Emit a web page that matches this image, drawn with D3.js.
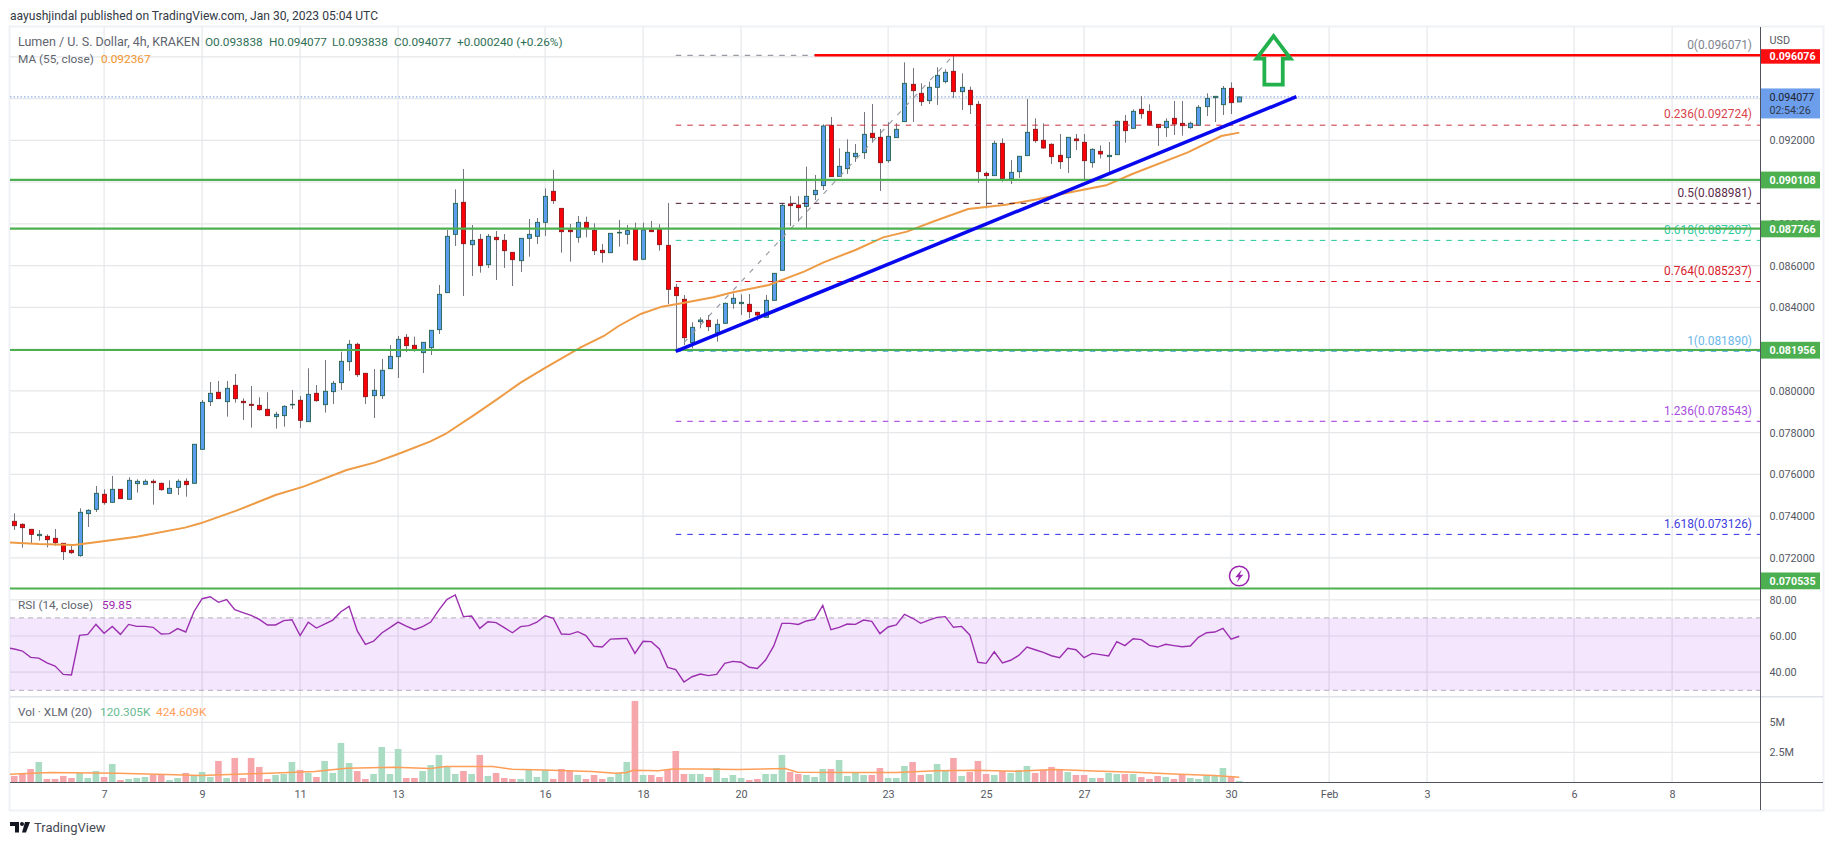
<!DOCTYPE html>
<html>
<head>
<meta charset="utf-8">
<title>Lumen / U. S. Dollar, 4h</title>
<script src="https://cdn.jsdelivr.net/npm/d3@7/dist/d3.min.js"></script>
<style>
  html, body { margin: 0; padding: 0; background: #fff; overflow: hidden; }
  svg { display: block; }
  text { font-family: Roboto, "Liberation Sans", sans-serif; }
  .axis .domain { display: none; }
  .axis text { fill: #555963; font-size: 10.8px; }
</style>
</head>
<body>
<svg id="chart" width="1834" height="845"></svg>
<script>
// 4h candles, one entry per bar, starting 5 Jan 2023 04:00 UTC
const opens = [
0.073752,0.073608,0.073369,0.073065,0.073034,0.072938,0.072698,0.072363,0.072108,0.074119,
0.074327,0.075045,0.074662,0.075284,0.074806,0.075556,0.075524,0.075668,0.075572,0.075093,
0.075380,0.075668,0.075572,0.077200,0.079483,0.079930,0.079483,0.080265,0.079499,0.079355,
0.079307,0.079116,0.078765,0.078813,0.079339,0.079547,0.078525,0.079882,0.079339,0.079962,
0.080393,0.081399,0.082229,0.080840,0.079770,0.079770,0.081063,0.081638,0.082564,0.082181,
0.081830,0.082069,0.082931,0.084703,0.087496,0.089029,0.087001,0.087257,0.086044,0.087353,
0.087209,0.086634,0.086235,0.087305,0.087401,0.088071,0.089556,0.088741,0.087704,0.087353,
0.088071,0.087688,0.086730,0.086618,0.087576,0.087497,0.087737,0.086300,0.087705,0.087737,
0.086970,0.084959,0.084384,0.082309,0.083314,0.083378,0.082788,0.083235,0.084193,0.084177,
0.084145,0.083761,0.083522,0.084336,0.085773,0.088950,0.088902,0.088838,0.089397,0.089828,
0.092717,0.090275,0.090642,0.091217,0.091408,0.092334,0.092143,0.091025,0.092127,0.092893,
0.094681,0.094250,0.093899,0.094537,0.094809,0.095303,0.094330,0.094394,0.093723,0.090418,
0.090307,0.091855,0.090163,0.090498,0.091265,0.092526,0.091999,0.091807,0.091281,0.091169,
0.092063,0.091903,0.090929,0.091472,0.091217,0.091312,0.092909,0.092574,0.093484,0.093388,
0.092765,0.092606,0.093053,0.092813,0.092606,0.092717,0.093611,0.094042,0.093707,0.094489,0.093838];
const highs = [
0.074135,0.073656,0.073369,0.073337,0.073129,0.073385,0.072698,0.072571,0.074374,0.074327,
0.075444,0.075284,0.075923,0.075284,0.075859,0.075763,0.075763,0.075763,0.075604,0.075715,
0.075763,0.075811,0.077440,0.079563,0.080425,0.080473,0.080473,0.080808,0.079643,0.080233,
0.079691,0.079930,0.079004,0.079307,0.080042,0.079754,0.081079,0.080281,0.081478,0.080473,
0.081878,0.082436,0.082309,0.080840,0.081047,0.081526,0.082197,0.082628,0.082724,0.082596,
0.082325,0.082899,0.085070,0.087704,0.089651,0.090625,0.087943,0.087512,0.087512,0.087656,
0.087512,0.086634,0.087305,0.088231,0.088279,0.089699,0.090577,0.088741,0.087991,0.088374,
0.088342,0.088023,0.087033,0.087544,0.088183,0.087944,0.088056,0.088056,0.088136,0.087976,
0.088998,0.085118,0.084592,0.083283,0.083522,0.083634,0.083426,0.084224,0.084671,0.084623,
0.084640,0.083793,0.084592,0.085629,0.088982,0.089333,0.089333,0.090738,0.090339,0.092765,
0.093116,0.091616,0.092047,0.091823,0.093356,0.093739,0.092542,0.092861,0.092813,0.095735,
0.095463,0.094729,0.094809,0.095495,0.095399,0.096071,0.095208,0.094569,0.093883,0.090498,
0.091983,0.092095,0.091057,0.091249,0.093978,0.093053,0.092813,0.091855,0.092302,0.092143,
0.092302,0.092302,0.091616,0.091759,0.091919,0.092941,0.093212,0.093484,0.094122,0.093723,
0.092765,0.093053,0.093883,0.093883,0.092893,0.093691,0.094250,0.094106,0.094601,0.094777,0.094077];
const lows = [
0.073337,0.072491,0.072698,0.072826,0.072507,0.072587,0.071900,0.072187,0.072060,0.073481,
0.074199,0.074550,0.074662,0.074837,0.074806,0.075125,0.075524,0.074550,0.075221,0.075093,
0.075013,0.074933,0.075572,0.077200,0.079275,0.079627,0.078765,0.079435,0.078605,0.078238,
0.079052,0.078813,0.078190,0.078286,0.079132,0.078222,0.078525,0.079483,0.078956,0.079371,
0.080042,0.080952,0.080664,0.079371,0.078701,0.079611,0.081063,0.080616,0.081862,0.081878,
0.080856,0.081718,0.082724,0.084703,0.086938,0.084543,0.085501,0.085660,0.085884,0.085309,
0.085884,0.085022,0.085692,0.086427,0.087033,0.087416,0.088949,0.086618,0.086187,0.087097,
0.087353,0.086507,0.086139,0.086618,0.086906,0.087018,0.086236,0.086300,0.087625,0.086715,
0.084161,0.081890,0.082197,0.082037,0.082995,0.082867,0.082357,0.083235,0.083937,0.083634,
0.083474,0.083362,0.083522,0.084336,0.085773,0.087896,0.088104,0.087784,0.089141,0.089620,
0.090259,0.090259,0.090387,0.090961,0.091105,0.091887,0.089572,0.090929,0.092127,0.092893,
0.092877,0.093643,0.093739,0.093691,0.094729,0.094026,0.093452,0.093260,0.089971,0.088742,
0.090307,0.090019,0.089908,0.090195,0.091265,0.091887,0.091600,0.090865,0.090626,0.090434,
0.091536,0.090099,0.090690,0.091137,0.090418,0.091312,0.091887,0.092574,0.093037,0.092685,
0.091728,0.092159,0.092254,0.092222,0.092558,0.092717,0.093164,0.092877,0.093212,0.093260,0.093838];
const closes = [
0.073544,0.073449,0.073129,0.073129,0.072874,0.072730,0.072299,0.072251,0.074183,0.074279,
0.075093,0.074646,0.075284,0.074837,0.075715,0.075668,0.075668,0.075604,0.075268,0.075332,
0.075668,0.075508,0.077440,0.079451,0.079882,0.079627,0.080122,0.079627,0.079435,0.079307,
0.079100,0.078813,0.078876,0.079259,0.079355,0.078589,0.079834,0.079531,0.079978,0.080361,
0.081415,0.082229,0.080776,0.079722,0.080026,0.080984,0.081654,0.082468,0.082165,0.081957,
0.082325,0.082899,0.084623,0.087401,0.088981,0.087049,0.087209,0.085996,0.087401,0.087241,
0.086714,0.086283,0.087305,0.087496,0.088071,0.089316,0.089109,0.087624,0.087624,0.088071,
0.087800,0.086714,0.086618,0.087544,0.087592,0.087673,0.086268,0.087705,0.087625,0.087002,
0.084863,0.084560,0.082548,0.083043,0.083394,0.083075,0.083187,0.084193,0.084432,0.084240,
0.083793,0.083634,0.084336,0.085629,0.088886,0.088870,0.088774,0.089317,0.089604,0.092685,
0.090259,0.090754,0.091424,0.091376,0.092286,0.092127,0.090929,0.092190,0.092526,0.094729,
0.094378,0.093851,0.094537,0.095112,0.095256,0.094330,0.094537,0.093707,0.090498,0.090307,
0.091855,0.090163,0.090466,0.091233,0.092382,0.091983,0.091632,0.091217,0.090977,0.092143,
0.091983,0.091025,0.091568,0.091344,0.091281,0.092909,0.092462,0.093388,0.093276,0.092733,
0.092606,0.092909,0.092781,0.092701,0.092813,0.093579,0.094010,0.094106,0.094489,0.093803,0.094077];

// Traded volume per bar, in millions of XLM
const volumes = [
0.53,0.78,1.11,1.69,0.28,0.28,0.53,0.36,0.78,0.36,
0.94,0.44,1.53,0.19,0.28,0.36,0.44,0.61,0.61,0.19,
0.36,0.78,0.53,0.86,0.44,1.78,0.36,2.03,0.36,2.03,
1.28,0.28,0.61,0.69,1.69,1.03,0.78,0.44,1.78,0.78,
3.28,1.61,0.94,0.28,0.69,2.94,0.69,2.78,0.36,0.36,
0.94,1.44,2.28,1.28,0.69,0.94,0.69,2.28,0.53,0.78,
0.36,0.28,0.28,1.11,0.44,1.03,0.28,1.11,0.94,0.61,
0.28,0.61,0.28,0.44,0.78,1.69,6.78,0.61,0.61,0.44,
1.03,2.61,0.69,0.69,0.69,0.44,1.19,0.36,0.61,0.36,
0.19,0.28,0.69,0.69,2.28,0.86,0.69,0.61,0.44,1.11,
1.11,1.86,0.53,0.78,0.61,0.61,1.19,0.36,0.36,1.36,
1.69,0.61,0.69,1.53,1.03,2.03,0.53,0.86,1.78,0.69,
0.61,0.94,0.78,1.03,1.36,0.78,1.03,1.28,1.11,0.86,
0.61,0.61,0.36,0.36,0.78,0.69,0.69,0.69,0.44,0.28,
0.53,0.44,0.28,0.69,0.36,0.28,0.61,0.53,1.19,0.53,0.120305];

// RSI(14), one value per bar; rsiLead sits just before the first bar
const rsiLead = 53.7;
const rsiValues = [
52.8,51.7,48.2,47.8,45.1,43.4,38.8,38.5,60.4,60.9,
66.4,61.5,65.3,60.9,66.4,65.3,65.3,64.8,61.1,61.3,
64.1,62.2,73.4,80.6,81.7,78.6,80.1,74.5,72.9,71.4,
69.2,66.1,66.1,68.5,69.0,60.2,67.6,64.4,66.6,68.8,
73.4,76.4,62.8,55.4,57.1,61.7,64.6,67.7,65.5,63.5,
65.2,67.7,74.4,80.3,82.7,70.7,71.0,64.2,67.9,67.4,
64.6,61.8,65.2,65.7,67.6,71.2,69.8,61.1,60.9,62.4,
60.2,54.3,53.9,58.3,58.5,58.7,50.4,57.1,56.9,52.8,
42.7,41.4,34.6,37.5,39.0,38.1,38.8,44.9,46.0,45.5,
42.7,42.1,46.7,54.5,67.0,67.0,66.4,68.3,69.2,76.9,
63.5,64.8,66.6,66.4,68.8,68.1,61.3,65.0,66.1,72.0,
69.8,67.0,68.8,70.3,70.7,64.8,65.3,60.6,45.5,44.9,
51.3,45.1,46.6,49.3,53.9,52.4,51.0,49.1,48.0,53.2,
52.4,48.0,50.4,49.7,49.0,56.9,54.7,58.5,58.0,54.8,
53.9,55.4,54.7,54.1,54.5,59.3,61.8,62.2,64.2,58.3,59.85];

// 55-period moving average of the close, read at the listed bar positions
const maBars = [-0.7,3,7.3,10.2,15,20.9,22.8,27.2,32,35.4,40.7,44.1,47,50.9,52.8,56.2,59.1,62,64.9,69.3,72.2,74,
  76.7,79.3,81.7,85.6,88,92.4,96.7,99.1,103,106.4,109.3,112.7,116.8,121.4,125.3,128.7,133.7,136.9,143.7,147.8,150];
const maValues = [0.072746,0.072666,0.072618,0.072762,0.073018,0.073449,0.073656,0.074263,0.075013,0.075412,0.076210,
  0.076562,0.076977,0.077567,0.077934,0.078813,0.079595,0.080393,0.081079,0.082069,0.082628,0.083107,
  0.083682,0.084033,0.084193,0.084480,0.084719,0.085071,0.085709,0.086156,0.086747,0.087353,0.087625,0.088136,
  0.088710,0.088918,0.089173,0.089461,0.089844,0.090387,0.091424,0.092206,0.092367];

// 20-period average of the volume, in millions
const volMaBars = [-0.7,4.4,12.6,17.5,22.8,28.1,32,36.8,40.7,46.5,50.9,52.8,58.6,61,64.9,70.7,73.6,75,75.8,78.9,80.6,
  83.8,88.6,94.4,95.9,103.1,108,112.9,117.7,122.6,127.4,132.3,137.2,142,146.9,150];
const volMaValues = [0.67,0.81,0.75,0.67,0.56,0.69,0.78,0.89,1.17,1.25,1.14,1.31,1.31,1.08,1.03,0.89,0.75,0.81,1.0,0.97,1.11,
  1.11,1.06,1.14,0.83,0.81,0.81,0.97,1.0,0.92,1.06,0.94,0.83,0.69,0.56,0.424609];

// Horizontal support levels and the resistance level
const supportLevels = [0.090108, 0.087766, 0.081956, 0.070535];
const resistanceLevel = 0.096076;
const resistanceStartBar = 98;

// Rising trendline, two anchors
const trendBars = [81, 157];
const trendPrices = [0.08189, 0.094088];

// Fibonacci retracement
const fibRatios = ["0", "0.236", "0.5", "0.618", "0.764", "1", "1.236", "1.618"];
const fibPrices = [0.096071, 0.092724, 0.088981, 0.087207, 0.085237, 0.08189, 0.078543, 0.073126];
const fibColors = ["#808490", "#c8323c", "#4b1532", "#22c99b", "#e0101e", "#5aaee6", "#a12fdc", "#2b2be6"];
const fibLabelColors = ["#808490", "#d8444c", "#5c2b48", "#2fc9a0", "#d8202c", "#6cb8ea", "#a94be0", "#4040e0"];
const fibAnchorBars = [81, 115];

// Axis ticks; levels that carry a tag on the axis have no plain label of their own
const priceTicks = [0.072,0.074,0.076,0.078,0.08,0.082,0.084,0.086,0.088,0.09,0.092,0.094,0.096];
const priceLabelTicks = [0.072,0.074,0.076,0.078,0.08,0.084,0.086,0.088,0.092];
const rsiTicks = [80, 60, 40];
const volTicks = [2.5, 5];
const dateTicks = [[0,7],[0,9],[0,11],[0,13],[0,16],[0,18],[0,20],[0,23],[0,25],[0,27],[0,30],[1,1],[1,3],[1,6],[1,8]];

const lastPrice = closes[closes.length - 1];
const lastMa = maValues[maValues.length - 1];

// Layout of the panes
const frame = { left: 10, right: 1823, top: 27, bottom: 810 };
const plotRight = 1760;
const priceRange = [590, 27];
const rsiRange = [697, 590];
const volRange = [782.3, 697];

const svg = d3.select("#chart");
const barMs = 4 * 3600 * 1000;
const firstBar = Date.UTC(2023, 0, 5, 4);
const barTime = i => new Date(firstBar + i * barMs);

const x = d3.scaleUtc()
  .domain([new Date(Date.UTC(2023, 0, 7)), new Date(Date.UTC(2023, 1, 8))])
  .range([104.1, 104.1 + 32 * 49]);
const y = d3.scaleLinear()
  .domain([0.092 - (590 - 140.3) / 20880, 0.092 + (140.3 - 27) / 20880])
  .range(priceRange);
const rsiY = d3.scaleLinear().domain([60 - 61 / 1.81, 60 + 46 / 1.81]).range(rsiRange);
const volY = d3.scaleLinear().domain([0, 85.3 / 12]).range(volRange);
const bx = i => x(barTime(i));

// Page furniture
svg.append("rect").attr("width", 1834).attr("height", 845).attr("fill", "#fff");
svg.append("text").attr("x", 10).attr("y", 19.5).attr("font-size", 12.1).attr("fill", "#333a45")
  .text("aayushjindal published on TradingView.com, Jan 30, 2023 05:04 UTC");
svg.append("rect")
  .attr("x", frame.left - 0.5).attr("y", frame.top - 0.5)
  .attr("width", frame.right - frame.left + 1).attr("height", frame.bottom - frame.top + 1)
  .attr("fill", "#fff").attr("stroke", "#eff1f6").attr("stroke-width", 2);

const defs = svg.append("defs");
const clip = (id, y0, y1) => defs.append("clipPath").attr("id", id).append("rect")
  .attr("x", frame.left).attr("y", y0).attr("width", plotRight - frame.left).attr("height", y1 - y0);
clip("price-clip", 27, 590);
clip("rsi-clip", 590, 697);
clip("vol-clip", 697, 782.3);

const gridColor = "#e6e7ea";
const grid = svg.append("g").attr("fill", "none").attr("stroke", gridColor).attr("stroke-width", 1.2);
const dates = dateTicks.map(([m, d]) => new Date(Date.UTC(2023, m, d)));
grid.selectAll(".v").data(dates).join("line").attr("class", "v")
  .attr("x1", d => x(d)).attr("x2", d => x(d)).attr("y1", frame.top).attr("y2", volRange[0]);
const hLine = (scale, vals) => grid.append("g").selectAll("line").data(vals).join("line")
  .attr("x1", frame.left).attr("x2", plotRight).attr("y1", d => scale(d)).attr("y2", d => scale(d));
hLine(y, priceTicks);
hLine(rsiY, rsiTicks);
hLine(volY, volTicks);

// RSI pane
const rsiPane = svg.append("g").attr("clip-path", "url(#rsi-clip)");
rsiPane.append("rect").attr("x", frame.left).attr("width", plotRight - frame.left)
  .attr("y", rsiY(70)).attr("height", rsiY(30) - rsiY(70)).attr("fill", "rgba(160,50,240,0.12)");
rsiPane.selectAll(".bound").data([70, 30]).join("line").attr("class", "bound")
  .attr("x1", frame.left).attr("x2", plotRight).attr("y1", d => rsiY(d)).attr("y2", d => rsiY(d))
  .attr("stroke", "#b5aebb").attr("stroke-width", 1).attr("stroke-dasharray", "5 4");
const rsiPoints = [[-1, rsiLead]].concat(rsiValues.map((v, i) => [i, v]));
rsiPane.append("path").attr("fill", "none").attr("stroke", "#9c2fb0").attr("stroke-width", 1.4)
  .attr("d", d3.line().x(d => bx(d[0])).y(d => rsiY(d[1]))(rsiPoints));

// Volume pane
const volPane = svg.append("g").attr("clip-path", "url(#vol-clip)");
volPane.selectAll("rect").data(volumes).join("rect")
  .attr("x", (d, i) => bx(i) - 3.3).attr("width", 6.6)
  .attr("y", d => volY(d)).attr("height", d => volY(0) - volY(d))
  .attr("fill", (d, i) => closes[i] >= opens[i] ? "#a9dcc3" : "#f6a7ac");
volPane.append("path").attr("fill", "none").attr("stroke", "#ff9e58").attr("stroke-width", 1.5)
  .attr("d", d3.line().x((d, i) => bx(volMaBars[i])).y(d => volY(d))(volMaValues));

// Last price marker
const pricePane = svg.append("g").attr("clip-path", "url(#price-clip)");
pricePane.append("line").attr("x1", frame.left).attr("x2", plotRight)
  .attr("y1", y(lastPrice)).attr("y2", y(lastPrice))
  .attr("stroke", "#6d9be0").attr("stroke-width", 1).attr("stroke-dasharray", "1.5 2");

// Candles
const candles = pricePane.append("g").selectAll("g").data(opens).join("g");
const snap = v => Math.round(v) + 0.5;
candles.append("line")
  .attr("x1", (d, i) => snap(bx(i))).attr("x2", (d, i) => snap(bx(i)))
  .attr("y1", (d, i) => y(highs[i])).attr("y2", (d, i) => y(lows[i]))
  .attr("stroke", "#73767e").attr("stroke-width", 1);
candles.append("rect")
  .attr("x", (d, i) => snap(bx(i)) - 2).attr("width", 4)
  .attr("y", (d, i) => y(Math.max(opens[i], closes[i])))
  .attr("height", (d, i) => Math.max(0.6, Math.abs(y(opens[i]) - y(closes[i]))))
  .attr("fill", (d, i) => closes[i] >= opens[i] ? "#5b9ef0" : "#fb0006")
  .attr("stroke", (d, i) => closes[i] >= opens[i] ? "#24634f" : "#8e1418")
  .attr("stroke-width", 0.9);

// Moving average
pricePane.append("path").attr("fill", "none").attr("stroke", "#ee9b45").attr("stroke-width", 2)
  .attr("d", d3.line().x((d, i) => bx(maBars[i])).y(d => y(d))(maValues));

// Fibonacci levels and their labels
const fib = pricePane.append("g");
fib.append("line")
  .attr("x1", bx(fibAnchorBars[0])).attr("y1", y(fibPrices[5]))
  .attr("x2", bx(fibAnchorBars[1])).attr("y2", y(fibPrices[0]))
  .attr("stroke", "#9a9da6").attr("stroke-width", 1.2).attr("stroke-dasharray", "5 7");
fib.selectAll(".level").data(fibPrices).join("line").attr("class", "level")
  .attr("x1", bx(fibAnchorBars[0])).attr("x2", plotRight)
  .attr("y1", d => y(d)).attr("y2", d => y(d))
  .attr("stroke", (d, i) => fibColors[i]).attr("stroke-width", 1).attr("stroke-dasharray", "5.5 6");
fib.selectAll("text").data(fibPrices).join("text")
  .attr("x", 1752).attr("y", d => y(d) - 11).attr("dy", "0.36em")
  .attr("text-anchor", "end").attr("font-size", 11.9)
  .attr("fill", (d, i) => fibLabelColors[i])
  .text((d, i) => `${fibRatios[i]}(${d3.format(".6f")(d)})`);

// Support and resistance lines
pricePane.selectAll(".support").data(supportLevels).join("line").attr("class", "support")
  .attr("x1", frame.left).attr("x2", plotRight)
  .attr("y1", d => y(d)).attr("y2", d => y(d))
  .attr("stroke", "#4caf50").attr("stroke-width", 2.2);
pricePane.append("line")
  .attr("x1", bx(resistanceStartBar)).attr("x2", plotRight)
  .attr("y1", y(resistanceLevel)).attr("y2", y(resistanceLevel))
  .attr("stroke", "#ff0000").attr("stroke-width", 2.5);

// Trendline
pricePane.append("line")
  .attr("x1", bx(trendBars[0])).attr("y1", y(trendPrices[0]))
  .attr("x2", bx(trendBars[1])).attr("y2", y(trendPrices[1]))
  .attr("stroke", "#0808ee").attr("stroke-width", 3.5);

// Up arrow annotation, outline only, anchored on the resistance line
const arrowX = bx(154.2), arrowY = y(resistanceLevel);
const arrowShape = [[0,-19],[-17,3.5],[-9.2,3.5],[-9.2,29.5],[9.2,29.5],[9.2,3.5],[17,3.5]];
pricePane.append("path")
  .attr("transform", `translate(${arrowX},${arrowY})`)
  .attr("d", d3.line()(arrowShape) + "Z")
  .attr("fill", "none").attr("stroke", "#22b14c").attr("stroke-width", 3.8).attr("stroke-linejoin", "miter");

// Lightning event marker just above the lowest support
const mark = pricePane.append("g").attr("transform", `translate(${bx(150)},${y(0.070535) - 12.5})`);
mark.append("circle").attr("r", 9.8).attr("fill", "#fff").attr("stroke", "#9c27b0").attr("stroke-width", 1.5);
mark.append("path").attr("d", "M2.5,-6.5L-4,1.2H-0.5L-2.5,6.5L4,-1.2H0.5Z").attr("fill", "#9c27b0");

// Axis and pane borders
const rules = svg.append("g").attr("stroke-width", 1);
rules.append("line").attr("x1", frame.left).attr("x2", frame.right).attr("y1", 696.8).attr("y2", 696.8)
  .attr("stroke", "#dfe2ea").attr("stroke-width", 1.6);
rules.append("line").attr("x1", frame.left).attr("x2", frame.right).attr("y1", 782.5).attr("y2", 782.5).attr("stroke", "#50535e");
rules.append("line").attr("x1", plotRight + 0.5).attr("x2", plotRight + 0.5).attr("y1", frame.top).attr("y2", frame.bottom).attr("stroke", "#50535e");

// Axes
const axisX = plotRight + 9.5;
const rightAxis = (scale, ticks, fmt) => svg.append("g").attr("class", "axis")
  .attr("transform", `translate(${axisX - 3},0)`)
  .call(d3.axisRight(scale).tickValues(ticks).tickFormat(fmt).tickSize(0).tickPadding(3));
rightAxis(y, priceLabelTicks, d3.format(".6f"));
rightAxis(rsiY, rsiTicks, d3.format(".2f"));
rightAxis(volY, volTicks, d => d + "M");
svg.append("g").attr("class", "axis").attr("transform", "translate(0,782.5)")
  .call(d3.axisBottom(x).tickValues(dates).tickSize(0).tickPadding(8)
    .tickFormat(d => d.getUTCMonth() === 1 && d.getUTCDate() === 1 ? "Feb" : d.getUTCDate()));
svg.append("text").attr("x", axisX).attr("y", 40).attr("dy", "0.36em")
  .attr("font-size", 10.8).attr("fill", "#555963").text("USD");

// Price tags on the axis
const tag = (yTop, h, fill, lines, color, weight) => {
  svg.append("rect").attr("x", plotRight + 1).attr("y", yTop).attr("width", 59).attr("height", h).attr("fill", fill);
  lines.forEach((t, i) => svg.append("text")
    .attr("x", axisX).attr("y", yTop + h / 2 + (i - (lines.length - 1) / 2) * 13.5).attr("dy", "0.36em")
    .attr("font-size", 10.7).attr("font-weight", weight).attr("fill", i ? "#2f3a4e" : color).text(t));
};
tag(y(resistanceLevel) - 6, 14.5, "#fb0d10", [d3.format(".6f")(resistanceLevel)], "#fff", 700);
tag(y(lastPrice) - 8.5, 30, "#6d9eeb", [d3.format(".6f")(lastPrice), "02:54:26"], "#1d2430", 400);
supportLevels.forEach((v, i) => {
  const top = i === 3 ? y(v) - 16 : y(v) - 8.2;
  tag(top, 16.8, "#4caf50", [d3.format(".6f")(v)], "#fff", 700);
});

// Legends
const legend = (yPos, parts) => {
  const t = svg.append("text").attr("y", yPos).attr("dy", "0.36em").attr("font-size", 11.8);
  parts.forEach(([text, color, at, size]) => t.append("tspan")
    .attr("x", at).attr("fill", color).attr("font-size", size || 11.8).text(text));
};
const up = "#2f6f55";
legend(42, [
  ["Lumen / U. S. Dollar, 4h, KRAKEN", "#60646e", 18, 12.5],
  ["O0.093838", up, 205], ["H0.094077", up, 269], ["L0.093838", up, 332],
  ["C0.094077", up, 394], ["+0.000240 (+0.26%)", up, 457]
]);
legend(59, [["MA (55, close)", "#60646e", 18], [d3.format(".6f")(lastMa), "#f0932b", 101]]);
legend(605, [["RSI (14, close)", "#60646e", 18], ["59.85", "#9c27b0", 102]]);
legend(712, [["Vol · XLM (20)", "#60646e", 18], ["120.305K", "#66bb90", 100], ["424.609K", "#ff9e58", 156]]);

// Footer logo and wordmark
const logo = svg.append("g").attr("fill", "#131722");
logo.append("path").attr("d", "M10,822H19V832.5H15V826H10Z");
logo.append("circle").attr("cx", 22).attr("cy", 824).attr("r", 2);
logo.append("path").attr("d", "M25,822H30L26,832.5H22Z");
svg.append("text").attr("x", 34).attr("y", 827).attr("dy", "0.36em")
  .attr("font-size", 13).attr("fill", "#454953").text("TradingView");
</script>
</body>
</html>
